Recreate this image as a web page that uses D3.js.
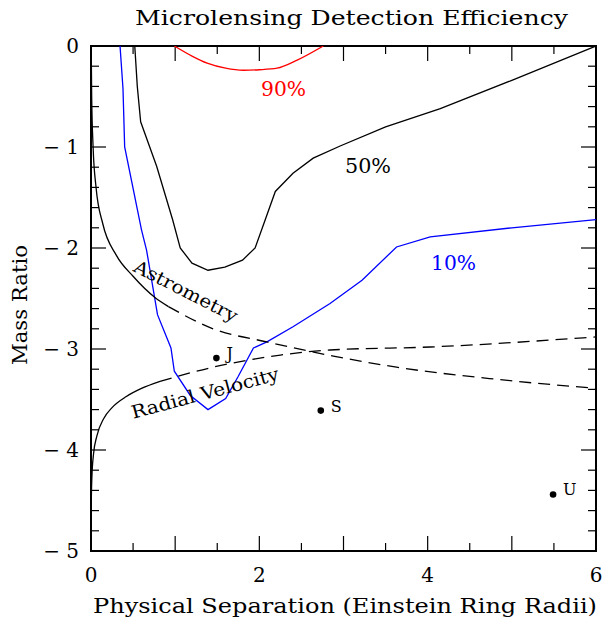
<!DOCTYPE html>
<html><head><meta charset="utf-8">
<script src="https://cdn.jsdelivr.net/npm/d3@7"></script>
<style>body{margin:0;background:#fff}svg{display:block}text{font-family:"DejaVu Serif",serif;fill:#000}</style>
</head><body>
<script>
// ---- data ----
const xTickLabels = [0, 2, 4, 6];
const yTickLabels = [0, -1, -2, -3, -4, -5];
const eff90 = [[0.99,0],[1.2,-0.1],[1.38,-0.17],[1.6,-0.22],[1.81,-0.24],[2.0,-0.235],[2.21,-0.22],[2.45,-0.14],[2.76,0]];
const eff50 = [[0.52,0],[0.55,-0.4],[0.59,-0.75],[0.78,-1.19],[0.97,-1.72],[1.06,-2.0],[1.2,-2.15],[1.39,-2.22],[1.59,-2.19],[1.8,-2.12],[1.95,-2.0],[2.07,-1.72],[2.19,-1.44],[2.4,-1.26],[2.64,-1.11],[2.96,-0.99],[3.5,-0.8],[4.15,-0.62],[5,-0.34],[6,0]];
const eff10 = [[0.345,0],[0.38,-0.42],[0.40,-1.0],[0.6,-1.82],[0.66,-2.02],[0.79,-2.66],[0.95,-2.99],[0.99,-3.22],[1.18,-3.46],[1.39,-3.6],[1.6,-3.49],[1.75,-3.27],[1.93,-2.99],[2.09,-2.93],[2.4,-2.78],[2.84,-2.55],[3.22,-2.32],[3.63,-1.99],[4.03,-1.89],[5,-1.8],[6,-1.72]];
const astroSolid = [[0.0025,0],[0.008,-0.5],[0.025,-1.0],[0.06,-1.4],[0.14,-1.76],[0.3,-2.07],[0.5,-2.28],[0.76,-2.49],[0.92,-2.58]];
const astroDashed = [[0.92,-2.58],[1.45,-2.8],[2.09,-2.93],[2.88,-3.07],[3.63,-3.18],[4.82,-3.3],[6,-3.39]];
const rvSolid = [[0.0008,-5.0],[0.003,-4.55],[0.01,-4.28],[0.03,-4.04],[0.07,-3.86],[0.15,-3.69],[0.25,-3.58],[0.42,-3.47],[0.6,-3.39],[0.82,-3.32]];
const rvDashed = [[0.82,-3.32],[1.45,-3.18],[2.25,-3.06],[2.84,-3.01],[4.03,-2.98],[6,-2.88]];
const planetNames = ["J", "S", "U"];
const planetX = [1.49, 2.73, 5.49];
const planetY = [-3.09, -3.61, -4.44];

// ---- layout ----
const W = 615, H = 623;
const L = 91, R = 596, T = 46, B = 551;
const svg = d3.select("body").append("svg").attr("width", W).attr("height", H);
const x = d3.scaleLinear().domain([0, 6]).range([L, R]);
const y = d3.scaleLinear().domain([-5, 0]).range([B, T]);

svg.append("defs").append("clipPath").attr("id", "clip")
  .append("rect").attr("x", L).attr("y", T).attr("width", R - L).attr("height", B - T);

// ticks
const xMajor = d3.range(0, 6.001, 1), xMinor = d3.range(0, 6.001, 0.5);
const yMajor = d3.range(-5, 0.001, 1), yMinor = d3.range(-5, 0.001, 0.2);
const tk = svg.append("g").attr("stroke", "#000").attr("stroke-width", 1.2);
xMinor.forEach(v => {
  const len = xMajor.some(m => Math.abs(m - v) < 1e-6) ? 15 : 8;
  tk.append("line").attr("x1", x(v)).attr("x2", x(v)).attr("y1", B).attr("y2", B - len);
  tk.append("line").attr("x1", x(v)).attr("x2", x(v)).attr("y1", T).attr("y2", T + len);
});
yMinor.forEach(v => {
  const len = yMajor.some(m => Math.abs(m - v) < 1e-6) ? 15 : 8;
  tk.append("line").attr("y1", y(v)).attr("y2", y(v)).attr("x1", L).attr("x2", L + len);
  tk.append("line").attr("y1", y(v)).attr("y2", y(v)).attr("x1", R).attr("x2", R - len);
});
svg.append("rect").attr("x", L).attr("y", T).attr("width", R - L).attr("height", B - T)
  .attr("fill", "none").attr("stroke", "#000").attr("stroke-width", 2);

// tick labels
svg.append("g").selectAll("text").data(xTickLabels).join("text")
  .attr("x", d => x(d)).attr("y", 582).attr("text-anchor", "middle")
  .attr("font-size", 20).text(d => d);
svg.append("g").selectAll("text").data(yTickLabels).join("text")
  .attr("x", 79).attr("y", d => y(d) + 7).attr("text-anchor", "end")
  .attr("font-size", 20).attr("xml:space", "preserve")
  .text(d => d === 0 ? "0" : "\u2212 " + Math.abs(d));

// titles
svg.append("text").attr("x", 135).attr("y", 25).attr("font-size", 20)
  .attr("textLength", 433).attr("lengthAdjust", "spacingAndGlyphs").text("Microlensing Detection Efficiency");
svg.append("text").attr("x", 93).attr("y", 613).attr("font-size", 20)
  .attr("textLength", 504).attr("lengthAdjust", "spacingAndGlyphs").text("Physical Separation (Einstein Ring Radii)");
svg.append("text").attr("transform", "translate(27,365) rotate(-90)").attr("font-size", 20)
  .attr("textLength", 120).attr("lengthAdjust", "spacingAndGlyphs").text("Mass Ratio");

// curves
const line = d3.line().x(d => x(d[0])).y(d => y(d[1]));
const smooth = d3.line().x(d => x(d[0])).y(d => y(d[1])).curve(d3.curveMonotoneY);
const smoothX = d3.line().x(d => x(d[0])).y(d => y(d[1])).curve(d3.curveMonotoneX);
const g = svg.append("g").attr("clip-path", "url(#clip)").attr("fill", "none").attr("stroke-width", 1.3);
g.append("path").attr("d", smoothX(eff90)).attr("stroke", "#ff0000");
g.append("path").attr("d", line(eff50)).attr("stroke", "#000");
g.append("path").attr("d", line(eff10)).attr("stroke", "#0000ff");
g.append("path").attr("d", smoothX(astroSolid)).attr("stroke", "#000");
g.append("path").attr("d", smoothX(astroDashed)).attr("stroke", "#000").attr("stroke-dasharray", "12,7");
g.append("path").attr("d", smoothX(rvSolid)).attr("stroke", "#000");
g.append("path").attr("d", smoothX(rvDashed)).attr("stroke", "#000").attr("stroke-dasharray", "12,7");

// curve labels
svg.append("text").attr("x", 261).attr("y", 96).attr("font-size", 20).style("fill", "#ff0000")
  .attr("textLength", 45).attr("lengthAdjust", "spacingAndGlyphs").text("90%");
svg.append("text").attr("x", 345).attr("y", 173).attr("font-size", 20)
  .attr("textLength", 46).attr("lengthAdjust", "spacingAndGlyphs").text("50%");
svg.append("text").attr("x", 431).attr("y", 270).attr("font-size", 20).style("fill", "#0000ff")
  .attr("textLength", 45).attr("lengthAdjust", "spacingAndGlyphs").text("10%");
svg.append("text").attr("transform", "translate(186,291) rotate(27)").attr("font-size", 18)
  .attr("text-anchor", "middle").attr("dy", "0.35em")
  .attr("textLength", 114).attr("lengthAdjust", "spacingAndGlyphs").text("Astrometry");
svg.append("text").attr("transform", "translate(205,393) rotate(-15)").attr("font-size", 18)
  .attr("text-anchor", "middle").attr("dy", "0.35em")
  .attr("textLength", 152).attr("lengthAdjust", "spacingAndGlyphs").text("Radial Velocity");

// planets
const planets = planetNames.map((n, i) => ({n, x: planetX[i], y: planetY[i]}));
svg.append("g").selectAll("circle").data(planets).join("circle")
  .attr("cx", d => x(d.x)).attr("cy", d => y(d.y)).attr("r", 3.3).attr("fill", "#000");
svg.append("g").selectAll("text").data(planets).join("text")
  .attr("x", d => x(d.x) + 10).attr("y", d => y(d.y) + 1).attr("font-size", 16)
  .text(d => d.n);
</script>
</body></html>
